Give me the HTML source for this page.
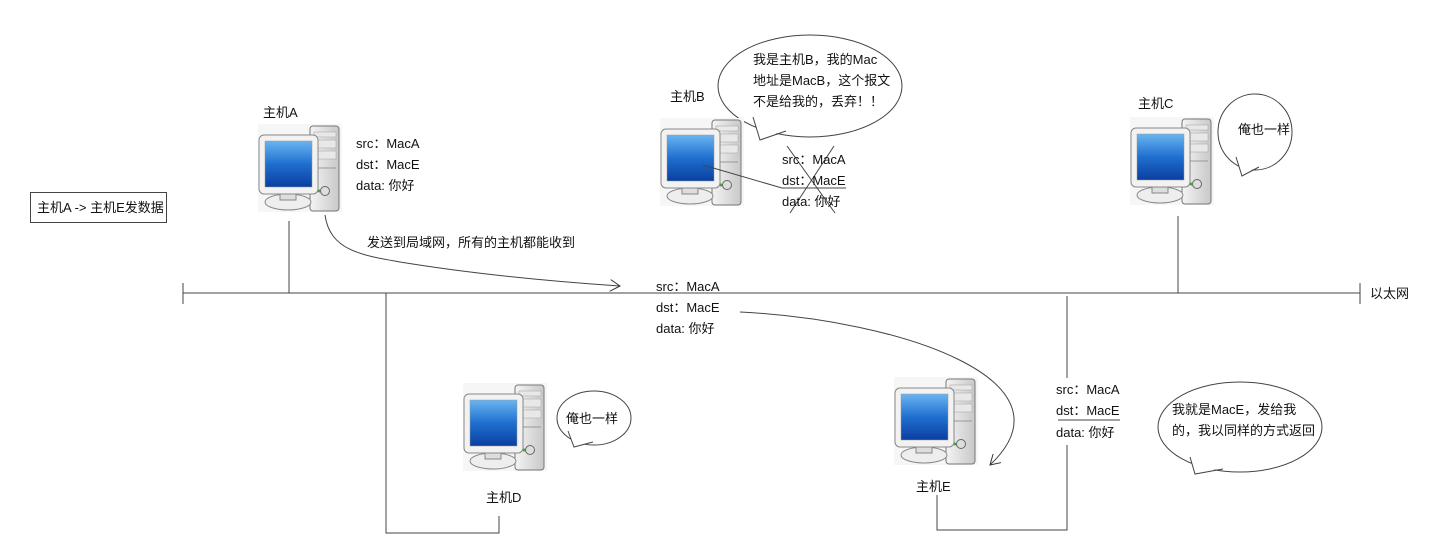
<!DOCTYPE html>
<html><head><meta charset="utf-8"><style>
html,body{margin:0;padding:0;background:#fff;}
svg{display:block;font-family:"Liberation Sans","Noto Sans CJK SC",sans-serif;font-size:13px;}
</style></head><body>
<svg width="1431" height="547" viewBox="0 0 1431 547" xmlns="http://www.w3.org/2000/svg">
<defs>
<linearGradient id="scr" x1="0" y1="0" x2="0" y2="1"><stop offset="0" stop-color="#6ab4f0"/><stop offset="0.5" stop-color="#1f6fd0"/><stop offset="1" stop-color="#0a3fa0"/></linearGradient>
<linearGradient id="tw" x1="0" y1="0" x2="1" y2="0"><stop offset="0" stop-color="#f4f4f4"/><stop offset="1" stop-color="#c8c8c8"/></linearGradient>
<g id="pc">
<rect x="0" y="0" width="84" height="88" fill="#f6f6f6"/>
<rect x="52" y="2" width="29" height="85" rx="3" fill="url(#tw)" stroke="#777" stroke-width="1"/>
<rect x="56" y="8" width="22" height="5" fill="#e8e8e8" stroke="#aaa" stroke-width="0.6"/>
<rect x="56" y="16" width="22" height="8" fill="#e8e8e8" stroke="#aaa" stroke-width="0.6"/>
<rect x="56" y="27" width="22" height="8" fill="#e8e8e8" stroke="#aaa" stroke-width="0.6"/>
<line x1="56" y1="44" x2="78" y2="44" stroke="#999"/>
<circle cx="67" cy="67" r="4.5" fill="#ddd" stroke="#666"/>
<circle cx="61" cy="67" r="1.5" fill="#3a3"/>
<ellipse cx="30" cy="78" rx="23" ry="8" fill="#eee" stroke="#888"/>
<rect x="22" y="66" width="16" height="10" fill="#ddd" stroke="#888"/>
<rect x="1" y="11" width="59" height="59" rx="5" fill="#f2f2f2" stroke="#888"/>
<rect x="7" y="17" width="47" height="46" fill="url(#scr)" stroke="#999" stroke-width="0.5"/>
</g>
<marker id="ar" markerWidth="12" markerHeight="12" refX="10" refY="6" orient="auto" markerUnits="userSpaceOnUse"><path d="M0,0 L10,6 L0,12" fill="none" stroke="#333" stroke-width="1"/></marker>
</defs>

<g stroke="#444" stroke-width="1" fill="none">
<line x1="183" y1="293" x2="1360" y2="293"/>
<line x1="183" y1="283" x2="183" y2="304"/>
<line x1="1360" y1="283" x2="1360" y2="304"/>
<line x1="289" y1="221" x2="289" y2="293"/>
<line x1="1178" y1="216" x2="1178" y2="293"/>
<polyline points="386,293 386,533 499,533 499,516"/>
<line x1="1067" y1="296" x2="1067" y2="378"/>
<polyline points="1067,445 1067,530 937,530 937,495"/>
<path d="M325,215 C330,250 360,255 400,262 C480,275 560,282 620,286" marker-end="url(#ar)"/>
<path d="M740,312 C900,320 1080,380 990,465" marker-end="url(#ar)"/>
<line x1="787" y1="146" x2="835" y2="213"/>
<line x1="834" y1="146" x2="790" y2="213"/>
<line x1="782" y1="188" x2="846" y2="188"/>
<line x1="1058" y1="420" x2="1120" y2="420"/>
<ellipse cx="810" cy="86" rx="92" ry="51" fill="#fff"/>
<polygon points="753,118 760,140 785,130" fill="#fff" stroke="none"/>
<polyline points="753,117 760,140 786,131"/>
<ellipse cx="1255" cy="132" rx="37" ry="38" fill="#fff"/>
<polygon points="1236,158 1242,176 1258,166" fill="#fff" stroke="none"/>
<polyline points="1236,157 1242,176 1259,167"/>
<ellipse cx="594" cy="418" rx="37" ry="27" fill="#fff"/>
<polygon points="568,432 574,447 592,442" fill="#fff" stroke="none"/>
<polyline points="568,431 574,447 593,442"/>
<ellipse cx="1240" cy="427" rx="82" ry="45" fill="#fff"/>
<polygon points="1190,458 1195,474 1222,468" fill="#fff" stroke="none"/>
<polyline points="1190,457 1195,474 1223,469"/>
</g>
<rect x="30.5" y="192.5" width="136" height="30" fill="#fff" stroke="#444"/>

<use href="#pc" x="258" y="124"/>
<use href="#pc" x="660" y="118"/>
<use href="#pc" x="1130" y="117"/>
<use href="#pc" x="463" y="383"/>
<use href="#pc" x="894" y="377"/>
<polyline points="703,165 782,188 846,188" stroke="#444" fill="none"/>

<g fill="#111">
<text x="37" y="212">主机A -&gt; 主机E发数据</text>
<text x="263" y="117">主机A</text>
<text x="670" y="101">主机B</text>
<text x="1138" y="108">主机C</text>
<text x="486" y="502">主机D</text>
<text x="916" y="491">主机E</text>
<text x="356" y="148">src：MacA</text>
<text x="356" y="169">dst：MacE</text>
<text x="356" y="190">data: 你好</text>
<text x="782" y="164">src：MacA</text>
<text x="782" y="185">dst：MacE</text>
<text x="782" y="206">data: 你好</text>
<text x="656" y="291">src：MacA</text>
<text x="656" y="312">dst：MacE</text>
<text x="656" y="333">data: 你好</text>
<text x="1056" y="394">src：MacA</text>
<text x="1056" y="415">dst：MacE</text>
<text x="1056" y="437">data: 你好</text>
<text x="367" y="247">发送到局域网，所有的主机都能收到</text>
<text x="1370" y="298">以太网</text>
<text x="753" y="64">我是主机B，我的Mac</text>
<text x="753" y="85">地址是MacB，这个报文</text>
<text x="753" y="106">不是给我的，丢弃！！</text>
<text x="1238" y="134">俺也一样</text>
<text x="566" y="423">俺也一样</text>
<text x="1172" y="414">我就是MacE，发给我</text>
<text x="1172" y="435">的，我以同样的方式返回</text>
</g>
</svg>
</body></html>
